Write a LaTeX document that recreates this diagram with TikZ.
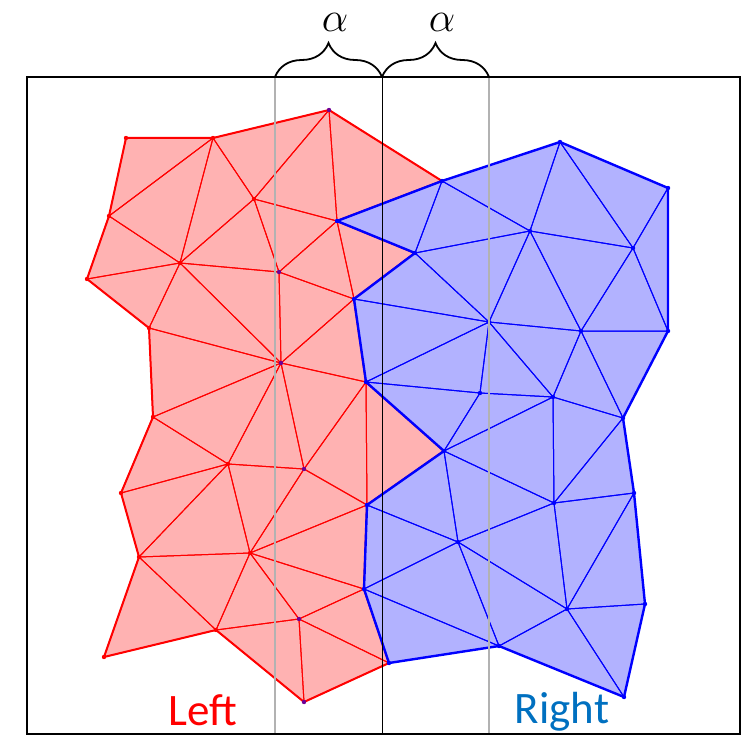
\documentclass[tikz,border=0pt]{standalone}
\usepackage{fix-cm}
\usepackage{fontspec}
\setmainfont{Carlito}
\usepackage{xcolor}
\usetikzlibrary{decorations.pathreplacing}
\definecolor{rightblue}{RGB}{0,112,192}
\definecolor{midpurple}{RGB}{110,0,150}

\begin{document}
\begin{tikzpicture}[
  x=1pt,y=-1pt,
  leftfill/.style={fill=red!30},
  rightfill/.style={fill=blue!30},
  leftedge/.style={draw=red,line width=1pt,line join=round},
  rightedge/.style={draw=blue,line width=1pt,line join=round},
  leftrim/.style={draw=red,line width=2pt,line join=round},
  rightrim/.style={draw=blue,line width=2.4pt,line join=round},
  cut/.style={draw=black!30,line width=1.6pt},
  bracket/.style={decorate,decoration={brace,amplitude=34pt},line width=1.8pt},
  greek/.style={inner sep=0pt,font=\fontsize{42}{46}\selectfont},
  side/.style={anchor=base,font=\fontsize{45}{50}\selectfont}
]
\useasboundingbox (0,0) rectangle (744,735);

% left mesh points
\coordinate (l1) at (126,138);
\coordinate (l2) at (213,138);
\coordinate (l3) at (109,216);
\coordinate (l4) at (87,279);
\coordinate (l5) at (180,263);
\coordinate (l6) at (254,199);
\coordinate (l7) at (279,272);
\coordinate (l8) at (329,110);
\coordinate (l9) at (149,328);
\coordinate (l10) at (281,363);
\coordinate (l11) at (153,417);
\coordinate (l12) at (228,464);
\coordinate (l13) at (304,469);
\coordinate (l14) at (121,493);
\coordinate (l15) at (139,557);
\coordinate (l16) at (250,553);
\coordinate (l17) at (299,619);
\coordinate (l18) at (216,630);
\coordinate (l19) at (104,657);
\coordinate (l20) at (304,702);
% shared seam
\coordinate (s1) at (442,181);
\coordinate (s2) at (337,221);
\coordinate (s3) at (415,253);
\coordinate (s4) at (354,299);
\coordinate (s5) at (366,382);
\coordinate (s6) at (444,451);
\coordinate (s7) at (367,505);
\coordinate (s8) at (364,589);
\coordinate (s9) at (389,663);
% right mesh points
\coordinate (r1) at (560,142);
\coordinate (r2) at (668,188);
\coordinate (r3) at (530,231);
\coordinate (r4) at (633,248);
\coordinate (r5) at (489,322);
\coordinate (r6) at (581,331);
\coordinate (r7) at (668,331);
\coordinate (r8) at (480,393);
\coordinate (r9) at (553,397);
\coordinate (r10) at (623,418);
\coordinate (r11) at (634,493);
\coordinate (r12) at (554,503);
\coordinate (r13) at (458,542);
\coordinate (r14) at (645,604);
\coordinate (r15) at (567,609);
\coordinate (r16) at (499,646);
\coordinate (r17) at (624,697);

% left part
\fill[leftfill] (l1)--(l2)--(l8)--(s1)--(s2)--(s3)--(s4)--(s5)--(s6)--(s7)--(s8)--(s9)
  --(l20)--(l18)--(l19)--(l15)--(l14)--(l11)--(l9)--(l4)--(l3)--cycle;
\foreach \u/\v/\w in {l1/l2/l3,l2/l3/l5,l3/l4/l5,l2/l5/l6,l2/l6/l8,l5/l6/l7,l6/l7/s2,
  l6/l8/s2,l8/s1/s2,l7/s2/s4,s2/s3/s4,l5/l7/l10,l7/l10/s4,l4/l5/l9,l5/l9/l10,
  l9/l10/l11,l10/l11/l12,l10/l12/l13,l10/s4/s5,l10/l13/s5,l13/s5/s7,s5/s6/s7,
  l11/l12/l14,l12/l14/l15,l12/l15/l16,l12/l13/l16,l13/l16/s7,l16/s7/s8,
  l16/l17/s8,l16/l17/l18,l15/l16/l18,l15/l18/l19,l17/s8/s9,l17/s9/l20,l17/l18/l20}
  \draw[leftedge] (\u)--(\v)--(\w)--cycle;
\draw[leftrim] (l1)--(l2)--(l8)--(s1)--(s2)--(s3)--(s4)--(s5)--(s6)--(s7)--(s8)--(s9)
  --(l20)--(l18)--(l19)--(l15)--(l14)--(l11)--(l9)--(l4)--(l3)--cycle;

% right part
\fill[rightfill] (s1)--(r1)--(r2)--(r7)--(r10)--(r11)--(r14)--(r17)--(r16)--(s9)
  --(s8)--(s7)--(s6)--(s5)--(s4)--(s3)--(s2)--cycle;
\foreach \u/\v/\w in {s1/s2/s3,s1/s3/r3,s1/r1/r3,r1/r3/r4,r1/r2/r4,r2/r4/r7,r3/r4/r6,
  r4/r6/r7,r3/r5/r6,s3/r3/r5,s3/s4/r5,s4/s5/r5,r5/r6/r9,r6/r9/r10,r6/r7/r10,
  r5/r8/r9,s5/r5/r8,s5/s6/r8,s6/r8/r9,s6/r9/r12,r9/r10/r12,r10/r11/r12,
  s6/r12/r13,s6/s7/r13,s7/s8/r13,s8/r13/r16,s8/s9/r16,r13/r15/r16,r12/r13/r15,
  r11/r12/r15,r11/r14/r15,r14/r15/r17,r15/r16/r17}
  \draw[rightedge] (\u)--(\v)--(\w)--cycle;
\draw[rightrim] (s1)--(r1)--(r2)--(r7)--(r10)--(r11)--(r14)--(r17)--(r16)--(s9)
  --(s8)--(s7)--(s6)--(s5)--(s4)--(s3)--(s2)--cycle;

% vertices
\foreach \v in {l1,l2,l3,l4,l5,l6,l9,l11,l12,l14,l15,l16,l18,l19}
  \fill[red] (\v) circle (2.2pt);
\foreach \v in {l7,l8,l10,l13,l17,l20}
  \fill[midpurple] (\v) circle (2.2pt);
\foreach \v in {s1,s2,s3,s4,s5,s6,s7,s8,s9,r1,r2,r3,r4,r5,r6,r7,r8,r9,r10,r11,r12,r13,r14,r15,r16,r17}
  \fill[blue] (\v) circle (2.2pt);

% frame, cuts and braces
\coordinate (topL) at (275,77);
\coordinate (topM) at (382,77);
\coordinate (topR) at (489,77);
\draw[cut] (topL) -- (275,735);
\draw[cut] (topR) -- (489,735);
\draw[black,line width=1pt] (topM) -- (382,735);
\draw[black,line width=1.6pt] (27,77) rectangle (740,734);
\draw[bracket] (topL) -- (topM);
\draw[bracket] (topM) -- (topR);
\node[greek] (alphaL) at (335,22) {$\alpha$};
\node[greek] (alphaR) at (442,22) {$\alpha$};

\node[side,text=red] (leftlbl) at (203,725) {Left};
\node[side,text=rightblue] (rightlbl) at (562,723) {Right};
\end{tikzpicture}
\end{document}
